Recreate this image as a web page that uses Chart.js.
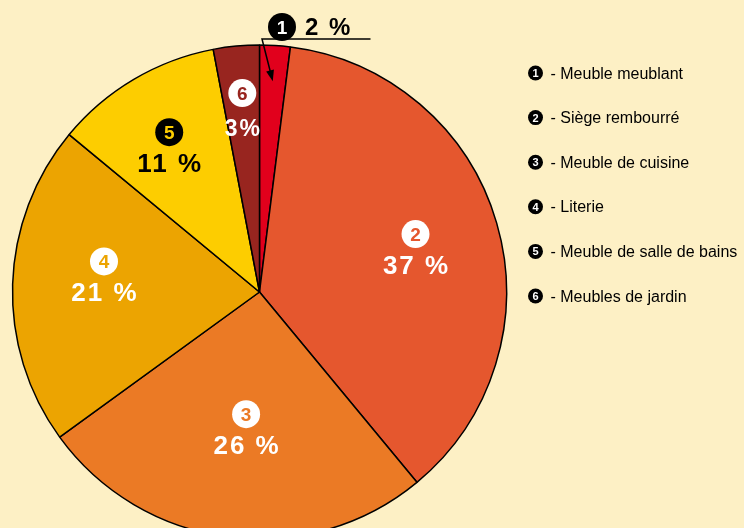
<!DOCTYPE html>
<html>
<head>
<meta charset="utf-8">
<script src="https://cdn.jsdelivr.net/npm/chart.js@4.4.1/dist/chart.umd.min.js"></script>
<style>
  html, body { margin: 0; padding: 0; background: #fdf0c5; overflow: hidden; }
  #wrap { width: 744px; height: 560px; position: relative; }
  canvas { display: block; }
</style>
</head>
<body>
<div id="wrap"><canvas id="c" width="744" height="560"></canvas></div>
<script>
// ---- data ----
const categories = ['Meuble meublant', 'Siège rembourré', 'Meuble de cuisine', 'Literie', 'Meuble de salle de bains', 'Meubles de jardin'];
const shares = [2, 37, 26, 21, 11, 3];
const valueLabels = ['2 %', '37 %', '26 %', '21 %', '11 %', '3%'];
const markerNumbers = ['1', '2', '3', '4', '5', '6'];

// ---- styles ----
const sliceColors = ['#e1001c', '#e5572e', '#eb7a25', '#eca401', '#fdcd00', '#98251f'];
const badgeFill = [null, '#ffffff', '#ffffff', '#ffffff', '#000000', '#ffffff'];
const badgeDigit = [null, '#e5572e', '#eb7a25', '#eca401', '#fdcd00', '#98251f'];
const textColor = [null, '#ffffff', '#ffffff', '#ffffff', '#000000', '#ffffff'];
// label placement: radial fraction and angle tweak (deg)
const labelPlace = [null, [0.653, 1.5], [0.566, -1.7], [0.632, 3.2], [0.684, -1.7], [0.74, 0]];

const labelPlugin = {
  id: 'labels',
  afterDatasetsDraw(chart) {
    const ctx = chart.ctx;
    const meta = chart.getDatasetMeta(0);
    ctx.save();
    for (let i = 1; i < meta.data.length; i++) {
      const arc = meta.data[i];
      const p = arc.getProps(['x', 'y', 'startAngle', 'endAngle', 'outerRadius'], true);
      const a = (p.startAngle + p.endAngle) / 2 + labelPlace[i][1] * Math.PI / 180;
      const d = p.outerRadius * labelPlace[i][0];
      const ax = p.x + d * Math.cos(a);
      const ay = p.y + d * Math.sin(a);
      // badge
      ctx.beginPath();
      ctx.arc(ax, ay - 17, 14, 0, Math.PI * 2);
      ctx.fillStyle = badgeFill[i];
      ctx.fill();
      ctx.fillStyle = badgeDigit[i];
      ctx.font = 'bold 19px "Liberation Sans", Arial, sans-serif';
      ctx.textAlign = 'center';
      ctx.textBaseline = 'alphabetic';
      ctx.letterSpacing = '0px';
      ctx.fillText(markerNumbers[i], ax, ay - 17 + 7);
      // value
      ctx.fillStyle = textColor[i];
      if (i === 5) {
        ctx.font = 'bold 23px "Liberation Sans", Arial, sans-serif';
        ctx.letterSpacing = '2px';
        ctx.fillText(valueLabels[i], ax + 1, ay + 26);
      } else {
        ctx.font = 'bold 26px "Liberation Sans", Arial, sans-serif';
        ctx.letterSpacing = '2px';
        ctx.fillText(valueLabels[i], ax + 1, ay + 23);
      }
    }
    // slice 1: outside label with leader line
    const a0 = meta.data[0].getProps(['x', 'y', 'startAngle', 'endAngle', 'outerRadius'], true);
    const cx = a0.x, cy = a0.y, R = a0.outerRadius;
    const mid = (a0.startAngle + a0.endAngle) / 2;
    const tipX = cx + 0.855 * R * Math.cos(mid);
    const tipY = cy + 0.855 * R * Math.sin(mid);
    const ex = cx + 2.5, ey = cy - R - 6;
    ctx.strokeStyle = '#000';
    ctx.lineWidth = 1.5;
    ctx.beginPath();
    ctx.moveTo(cx + 111, ey);
    ctx.lineTo(ex, ey);
    const ang = Math.atan2(tipY - ey, tipX - ex);
    const hl = 11;
    ctx.lineTo(tipX - (hl - 2) * Math.cos(ang), tipY - (hl - 2) * Math.sin(ang));
    ctx.stroke();
    ctx.beginPath();
    ctx.moveTo(tipX, tipY);
    ctx.lineTo(tipX - hl * Math.cos(ang) + 4 * Math.sin(ang), tipY - hl * Math.sin(ang) - 4 * Math.cos(ang));
    ctx.lineTo(tipX - hl * Math.cos(ang) - 4 * Math.sin(ang), tipY - hl * Math.sin(ang) + 4 * Math.cos(ang));
    ctx.closePath();
    ctx.fillStyle = '#000';
    ctx.fill();
    ctx.beginPath();
    ctx.arc(cx + 22.5, cy - R - 18, 14, 0, Math.PI * 2);
    ctx.fill();
    ctx.fillStyle = '#fff';
    ctx.font = 'bold 19px "Liberation Sans", Arial, sans-serif';
    ctx.textAlign = 'center';
    ctx.letterSpacing = '0px';
    ctx.fillText(markerNumbers[0], cx + 22.5, cy - R - 11);
    ctx.fillStyle = '#000';
    ctx.textAlign = 'left';
    ctx.font = 'bold 24px "Liberation Sans", Arial, sans-serif';
    ctx.letterSpacing = '2px';
    ctx.fillText(valueLabels[0], cx + 45.5, cy - R - 10);

    // legend
    ctx.letterSpacing = '0px';
    for (let i = 0; i < categories.length; i++) {
      const y = 73 + i * 44.6;
      ctx.beginPath();
      ctx.arc(535.5, y, 7.5, 0, Math.PI * 2);
      ctx.fillStyle = '#000';
      ctx.fill();
      ctx.fillStyle = '#fff';
      ctx.font = 'bold 11px "Liberation Sans", Arial, sans-serif';
      ctx.textAlign = 'center';
      ctx.fillText(markerNumbers[i], 535.5, y + 4);
      ctx.fillStyle = '#000';
      ctx.textAlign = 'left';
      ctx.font = '16px "Liberation Sans", Arial, sans-serif';
      ctx.fillText('- ' + categories[i], 550.5, y + 5.5);
    }
    ctx.restore();
  }
};

new Chart(document.getElementById('c'), {
  type: 'pie',
  data: {
    labels: categories,
    datasets: [{
      data: shares,
      backgroundColor: sliceColors,
      borderColor: '#000000',
      borderWidth: 1.5,
      radius: 247
    }]
  },
  options: {
    responsive: false,
    devicePixelRatio: 1,
    animation: false,
    layout: { padding: { left: 12, right: 237, top: 45, bottom: 21 } },
    plugins: { legend: { display: false }, tooltip: { enabled: false } }
  },
  plugins: [labelPlugin]
});
</script>
</body>
</html>
